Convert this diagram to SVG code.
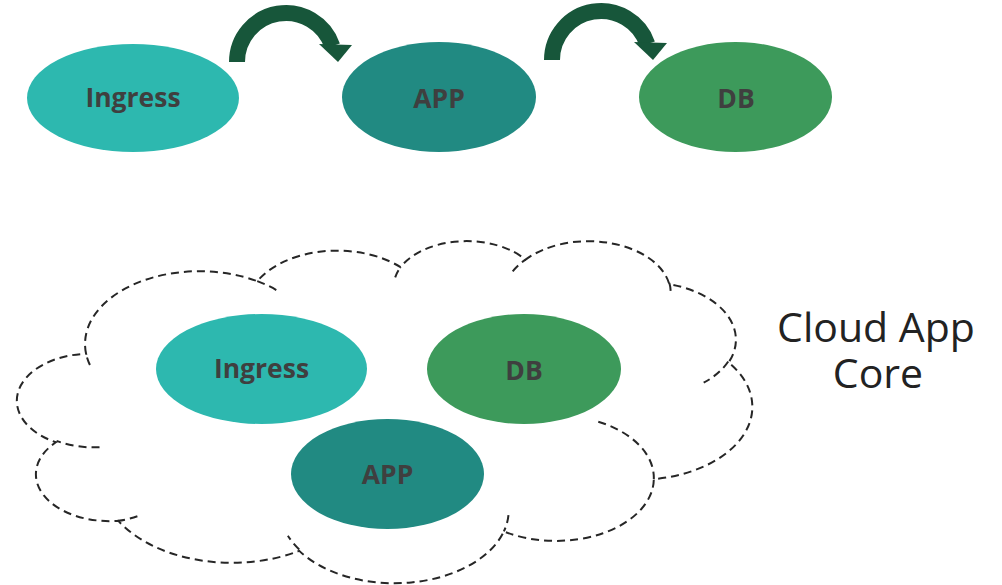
<svg xmlns="http://www.w3.org/2000/svg" width="1002" height="585" viewBox="0 0 1002 585">
  <defs>
    <style>
      .ing { fill: #2DB8AF; }
      .app { fill: #218A82; }
      .db { fill: #3D9A5B; }
      .lbl { font-family: "Open Sans", "Liberation Sans", sans-serif; font-weight: 700; font-size: 26.5px; fill: #3F3F3F; text-anchor: middle; }
      .cloud { fill: none; stroke: #262626; stroke-width: 2; stroke-dasharray: 8 5; }
      .arc { fill: none; stroke: #17563A; stroke-width: 16; }
      .head { fill: #17563A; }
      .title { font-family: "Open Sans", "Liberation Sans", sans-serif; font-size: 41px; fill: #222222; text-anchor: middle; }
    </style>
    <g id="curvedArrow">
      <path class="arc" d="M 237 62 A 49 49 0 0 1 332.3 46"/>
      <polygon class="head" points="319,44 352,45 338,62"/>
    </g>
  </defs>

  <g id="cloud">
    <path class="cloud" d="M 86.08 353.76 A 114.43 72.75 0 0 1 257.32 281.19 A 90.36 57.53 0 0 1 400.52 267.18 A 73.96 47.06 0 0 1 525.53 259.65 A 82.30 52.21 0 0 1 669.30 284.17 A 90.36 57.58 0 0 1 728.61 362.41 A 114.80 72.99 0 0 1 653.81 479.12 A 98.02 62.28 0 0 1 503.89 531.45 A 114.41 72.95 0 0 1 299.29 550.86 A 130.81 83.47 0 0 1 118.40 520.83 A 73.88 46.85 0 0 1 55.85 442.28 A 73.62 47.06 0 0 1 86.08 353.76 Z"/>
    <path class="cloud" d="M 99.52 447.23 A 73.62 47.06 0 0 1 56.6 440.9 M 137.39 516.28 A 73.88 46.85 0 0 1 118.4 520.83 M 299.21 549.46 A 114.41 72.95 0 0 1 287.89 535.68 M 508.46 515.11 A 114.41 72.95 0 0 1 503.89 531.45 M 598.30 421.72 A 98.02 62.28 0 0 1 653.81 479.12 M 728.24 361.55 A 90.36 57.58 0 0 1 703.69 382.74 M 669.38 282.96 A 82.30 52.21 0 0 1 670.67 292.96 M 512.71 271.29 A 82.30 52.21 0 0 1 525.53 259.65 M 395.17 277.37 A 73.96 47.06 0 0 1 400.52 267.18 M 257.22 281.10 A 114.43 72.75 0 0 1 279.23 291.77 M 89.93 365.0 A 114.43 72.75 0 0 1 86.08 353.76"/>
  </g>

  <g id="connectors">
    <use href="#curvedArrow"/>
    <use href="#curvedArrow" transform="translate(315,-2)"/>
  </g>

  <g id="ingress-top">
    <ellipse class="ing" cx="133" cy="98" rx="106" ry="54"/>
    <text class="lbl" x="133" y="107">Ingress</text>
  </g>
  <g id="app-top">
    <ellipse class="app" cx="439" cy="97" rx="97" ry="55"/>
    <text class="lbl" x="439" y="108">APP</text>
  </g>
  <g id="db-top">
    <ellipse class="db" cx="735.5" cy="97" rx="96.5" ry="55"/>
    <text class="lbl" x="736" y="108">DB</text>
  </g>

  <g id="ingress-core">
    <ellipse class="ing" cx="261.5" cy="369" rx="105.5" ry="55"/>
    <text class="lbl" x="261.5" y="378">Ingress</text>
  </g>
  <g id="db-core">
    <ellipse class="db" cx="524" cy="369" rx="97" ry="55"/>
    <text class="lbl" x="524" y="380">DB</text>
  </g>
  <g id="app-core">
    <ellipse class="app" cx="387.5" cy="474" rx="96.5" ry="55"/>
    <text class="lbl" x="387.5" y="484">APP</text>
  </g>

  <g id="cloud-label">
    <text class="title" x="876" y="342">Cloud App<tspan x="878" y="388">Core</tspan></text>
  </g>
</svg>
